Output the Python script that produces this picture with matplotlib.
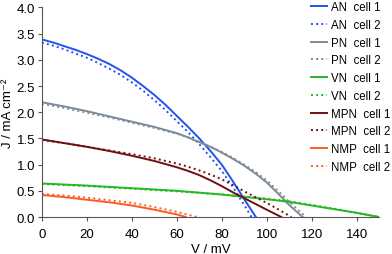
import matplotlib.pyplot as plt

plt.rcParams['font.family'] = ['Liberation Sans', 'DejaVu Sans']

# J-V curves, V in mV, J in mA cm-2
an1_v = [0, 5, 10, 15, 20, 25, 30, 35, 40, 45, 50, 55, 60, 65, 70, 75, 80, 85, 90, 95.2]
an1_j = [3.39, 3.33, 3.26, 3.19, 3.11, 3.02, 2.92, 2.80, 2.66, 2.50, 2.33, 2.14, 1.93,
         1.72, 1.50, 1.26, 1.00, 0.68, 0.34, 0.0]
an2_v = [0, 5, 10, 15, 20, 25, 30, 35, 40, 45, 50, 55, 60, 65, 70, 75, 80, 85, 90, 93.2]
an2_j = [3.33, 3.27, 3.20, 3.12, 3.04, 2.94, 2.83, 2.71, 2.57, 2.41, 2.23, 2.04, 1.83,
         1.62, 1.39, 1.14, 0.88, 0.57, 0.23, 0.0]

pn1_v = [0, 10, 20, 30, 40, 50, 60, 65, 70, 75, 80, 85, 90, 95, 100, 105, 110, 116]
pn1_j = [2.19, 2.11, 2.02, 1.92, 1.82, 1.72, 1.60, 1.52, 1.43, 1.34, 1.23, 1.11, 0.98,
         0.83, 0.66, 0.45, 0.23, 0.0]
pn2_v = [0, 10, 20, 30, 40, 50, 60, 65, 70, 75, 80, 85, 90, 95, 100, 105, 110, 117.5]
pn2_j = [2.16, 2.08, 1.99, 1.90, 1.80, 1.70, 1.59, 1.52, 1.43, 1.34, 1.24, 1.13, 1.00,
         0.86, 0.70, 0.50, 0.29, 0.0]

vn1_v = [0, 20, 40, 60, 80, 100, 110, 120, 130, 140, 150]
vn1_j = [0.64, 0.60, 0.55, 0.50, 0.43, 0.34, 0.29, 0.22, 0.15, 0.08, 0.0]
vn2_v = [0, 20, 40, 60, 80, 100, 110, 120, 130, 140, 150]
vn2_j = [0.63, 0.59, 0.54, 0.49, 0.43, 0.35, 0.30, 0.23, 0.16, 0.08, 0.0]

mpn1_v = [0, 10, 20, 30, 40, 50, 60, 65, 70, 75, 80, 85, 90, 95, 100, 106.5]
mpn1_j = [1.48, 1.41, 1.34, 1.26, 1.17, 1.07, 0.95, 0.88, 0.80, 0.70, 0.59, 0.47, 0.36,
          0.25, 0.14, 0.0]
mpn2_v = [0, 10, 20, 30, 40, 50, 60, 65, 70, 75, 80, 85, 90, 95, 100, 105, 111]
mpn2_j = [1.47, 1.41, 1.34, 1.27, 1.20, 1.12, 1.02, 0.96, 0.89, 0.81, 0.72, 0.61, 0.49,
          0.38, 0.27, 0.15, 0.0]

nmp1_v = [0, 10, 20, 30, 40, 50, 60, 64]
nmp1_j = [0.42, 0.38, 0.33, 0.28, 0.22, 0.14, 0.05, 0.0]
nmp2_v = [0, 10, 20, 30, 40, 50, 60, 69]
nmp2_j = [0.44, 0.41, 0.37, 0.32, 0.27, 0.19, 0.10, 0.0]

labels = ['AN  cell 1', 'AN  cell 2', 'PN  cell 1', 'PN  cell 2', 'VN  cell 1',
          'VN  cell 2', 'MPN  cell 1', 'MPN  cell 2', 'NMP  cell 1', 'NMP  cell 2']

blue = '#2152f2'
grey = '#7d8b98'
green = '#25b825'
maroon = '#6e1010'
orange = '#ff5a1f'

fig = plt.figure(figsize=(3.92, 2.55), dpi=100)
ax = fig.add_axes([0.107, 0.145, 0.86, 0.822])

lw = 1.4
ax.plot(an1_v, an1_j, color=blue, lw=lw)
ax.plot(an2_v, an2_j, color=blue, lw=lw, ls=':')
ax.plot(pn1_v, pn1_j, color=grey, lw=lw)
ax.plot(pn2_v, pn2_j, color=grey, lw=lw, ls=':')
ax.plot(vn1_v, vn1_j, color=green, lw=lw)
ax.plot(vn2_v, vn2_j, color=green, lw=lw, ls=':')
ax.plot(mpn1_v, mpn1_j, color=maroon, lw=lw)
ax.plot(mpn2_v, mpn2_j, color=maroon, lw=lw, ls=':')
ax.plot(nmp1_v, nmp1_j, color=orange, lw=lw)
ax.plot(nmp2_v, nmp2_j, color=orange, lw=lw, ls=':')

ax.set_xlim(0, 150)
ax.set_ylim(0, 4.0)
ax.set_xticks([0, 20, 40, 60, 80, 100, 120, 140])
ax.set_yticks([0, 0.5, 1.0, 1.5, 2.0, 2.5, 3.0, 3.5, 4.0])
ax.set_yticklabels(['0.0', '0.5', '1.0', '1.5', '2.0', '2.5', '3.0', '3.5', '4.0'])
ax.tick_params(labelsize=9.5, length=3, width=0.8, color='#555555')
ax.tick_params(axis='y', pad=2)
ax.tick_params(axis='x', pad=5)
for s in ['top', 'right']:
    ax.spines[s].set_visible(False)
for s in ['left', 'bottom']:
    ax.spines[s].set_color('#555555')
    ax.spines[s].set_linewidth(0.8)

ax.set_xlabel('V / mV', fontsize=9.5, labelpad=2)
ax.set_ylabel('J / mA cm⁻²', fontsize=9.5)
ax.yaxis.set_label_coords(-0.083, 0.5)

ax.legend(labels, loc='upper right', bbox_to_anchor=(1.065, 1.08), frameon=False,
          fontsize=8.3, handlelength=1.35, handletextpad=0.4, labelspacing=0.5)

plt.savefig('out.png')
